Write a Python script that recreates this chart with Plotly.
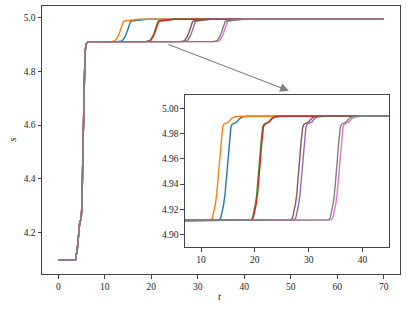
import plotly.graph_objects as go

# ---- data ----
series_names = ["blue", "orange", "green", "red", "purple", "brown", "pink", "gray"]
colors = ["#1f77b4", "#ff7f0e", "#2ca02c", "#d62728", "#9467bd", "#8c564b", "#e377c2", "#7f7f7f"]

# initial rise (identical for all series)
t_init = [0, 3.7, 4.1, 4.4, 4.6, 4.9, 5.1, 5.3, 5.5, 5.75, 6.0, 6.4]
s_init = [4.098, 4.098, 4.14, 4.20, 4.235, 4.25, 4.30, 4.50, 4.72, 4.87, 4.903, 4.911]

# values along the second step (same levels for every series)
s_step = [4.911, 4.9115, 4.913, 4.918, 4.924, 4.932, 4.943, 4.957, 4.971, 4.980,
          4.9855, 4.9875, 4.9885, 4.9895, 4.991, 4.9927, 4.9936, 4.994]

# times at which each series passes those levels
t_blue   = [12.75, 13.35, 13.65, 13.95, 14.2, 14.45, 14.7, 14.95, 15.2, 15.4, 15.55, 15.75, 16.15, 16.65, 16.95, 17.35, 17.85, 18.95]
t_orange = [11.2, 11.8, 12.1, 12.4, 12.65, 12.9, 13.15, 13.4, 13.65, 13.85, 14.0, 14.2, 14.6, 15.1, 15.4, 15.8, 16.3, 17.4]
t_green  = [18.65, 19.25, 19.55, 19.85, 20.1, 20.35, 20.6, 20.85, 21.1, 21.3, 21.45, 21.65, 22.05, 22.55, 22.85, 23.25, 23.75, 24.85]
t_red    = [18.8, 19.4, 19.7, 20.0, 20.25, 20.5, 20.75, 21.0, 21.25, 21.45, 21.6, 21.8, 22.2, 22.7, 23.0, 23.4, 23.9, 25.0]
t_purple = [26.7, 27.3, 27.6, 27.9, 28.15, 28.4, 28.65, 28.9, 29.15, 29.35, 29.5, 29.7, 30.1, 30.6, 30.9, 31.3, 31.8, 32.9]
t_brown  = [26.1, 26.7, 27.0, 27.3, 27.55, 27.8, 28.05, 28.3, 28.55, 28.75, 28.9, 29.1, 29.5, 30.0, 30.3, 30.7, 31.2, 32.3]
t_pink   = [33.6, 34.2, 34.5, 34.8, 35.05, 35.3, 35.55, 35.8, 36.05, 36.25, 36.4, 36.6, 37.0, 37.5, 37.8, 38.2, 38.7, 39.8]
t_gray   = [33.1, 33.7, 34.0, 34.3, 34.55, 34.8, 35.05, 35.3, 35.55, 35.75, 35.9, 36.1, 36.5, 37.0, 37.3, 37.7, 38.2, 39.3]

t_end = [70]
s_end = [4.994]

step_times = [t_blue, t_orange, t_green, t_red, t_purple, t_brown, t_pink, t_gray]

main_yticks = [4.2, 4.4, 4.6, 4.8, 5.0]
main_xticks = [0, 10, 20, 30, 40, 50, 60, 70]
inset_xticks = [10, 20, 30, 40]
inset_yticks = [4.90, 4.92, 4.94, 4.96, 4.98, 5.00]

FONT = "Liberation Serif, Times New Roman, serif"
AX = "#444444"

fig = go.Figure()
for axx, axy in (("x", "y"), ("x2", "y2")):
    for name, col, ts in zip(series_names, colors, step_times):
        t = t_init + ts + t_end
        s = s_init + s_step + s_end
        fig.add_trace(go.Scatter(x=t, y=s, mode="lines", name=name,
                                 line=dict(color=col, width=1.4), xaxis=axx, yaxis=axy,
                                 showlegend=False, hoverinfo="skip"))

axis_common = dict(showgrid=False, zeroline=False, showline=True, mirror=True,
                   linecolor=AX, linewidth=1, ticks="outside", ticklen=3.5,
                   tickcolor=AX, tickwidth=1, automargin=False,
                   tickfont=dict(family=FONT, size=9.5, color="#222"))

fig.update_layout(
    width=407, height=312,
    margin=dict(l=42, r=7, t=6, b=38),
    paper_bgcolor="white", plot_bgcolor="white",
    font=dict(family=FONT, size=9.5, color="#222"),
    xaxis=dict(domain=[0, 1], range=[-3.5, 73.5], tickvals=main_xticks, **axis_common),
    yaxis=dict(domain=[0, 1], range=[4.0455, 5.0435], tickvals=main_yticks,
               tickformat=".1f", **axis_common),
    xaxis2=dict(domain=[0.3994, 0.970], range=[7, 45], tickvals=inset_xticks,
                anchor="y2", **axis_common),
    yaxis2=dict(domain=[0.0996, 0.668], range=[4.8897, 5.0109], tickvals=inset_yticks,
                tickformat=".2f", anchor="x2", **axis_common),
)

# axis titles
fig.add_annotation(text="<i>t</i>", xref="paper", yref="paper", x=0.497, y=-0.084,
                   showarrow=False, font=dict(family=FONT, size=10, color="#222"),
                   xanchor="center", yanchor="middle")
fig.add_annotation(text="<i>s</i>", xref="paper", yref="paper", x=-0.085, y=0.5,
                   showarrow=False, font=dict(family=FONT, size=10, color="#222"),
                   xanchor="center", yanchor="middle", textangle=-90)

fig.add_annotation(x=49.6, y=4.728, ax=23.4, ay=4.902, xref="x", yref="y",
                   axref="x", ayref="y", text="", showarrow=True,
                   arrowhead=2, arrowsize=1.6, arrowwidth=1.1, arrowcolor="#808080")

fig.write_html("out.html", config={"displayModeBar": False},
               post_script="document.body.style.margin='0';document.body.style.padding='0';")
